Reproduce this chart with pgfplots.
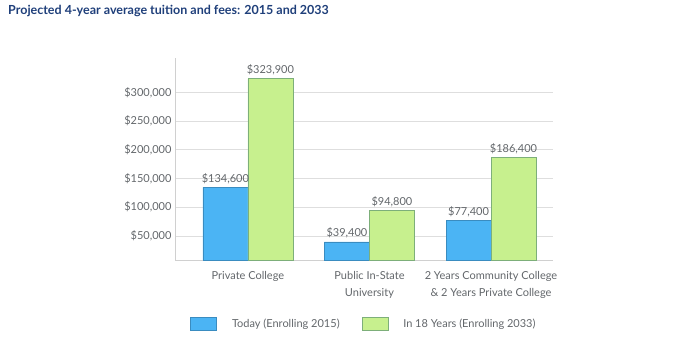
\documentclass[border=0pt]{standalone}
\usepackage{pgfplots}
\pgfplotsset{compat=1.18}
\usepackage{fontspec}
\setmainfont{Lato}
\definecolor{titleblue}{HTML}{1F3F7A}
\definecolor{txtgray}{HTML}{62666A}
\definecolor{gridgray}{HTML}{DEDEDE}
\definecolor{axisgray}{HTML}{D0D0D0}
\definecolor{barblue}{HTML}{4BB4F4}
\definecolor{barblueedge}{HTML}{3A8CC0}
\definecolor{bargreen}{HTML}{C7F08E}
\definecolor{bargreenedge}{HTML}{7DAF7A}
\begin{document}
\begin{tikzpicture}[x=1pt,y=1pt]
\begin{axis}[
  width=378pt, height=202pt, scale only axis,
  ybar=0pt, bar width=45pt,
  xmin=-0.6, xmax=2.51, ymin=8000, ymax=360000,
  xtick={0,1,2},
  xticklabels={Private College, {Public In-State\\University}, {2 Years Community College\\\& 2 Years Private College}},
  xticklabel style={align=center, font=\fontsize{11}{17}\selectfont, text=txtgray, yshift=-8pt},
  ytick={50000,100000,150000,200000,250000,300000},
  yticklabel={\$\pgfmathprintnumber{\tick}},
  yticklabel style={font=\fontsize{11}{13}\selectfont, text=txtgray},
  /pgf/number format/.cd, fixed, precision=0, 1000 sep={,}, assume math mode=true, /pgfplots/.cd,
  scaled y ticks=false,
  major tick length=0pt,
  axis x line*=bottom, axis y line*=left,
  axis line style={axisgray, -},
  ymajorgrids, grid style={gridgray, line width=0.8pt},
  nodes near coords={\$\pgfmathprintnumber{\pgfplotspointmeta}},
  nodes near coords style={font=\fontsize{11}{13}\selectfont, text=txtgray},
  legend style={at={(0.5,-0.317)}, anchor=center, draw=none, fill=none,
    font=\fontsize{11}{13}\selectfont, text=txtgray,
    /tikz/every even column/.append style={column sep=20pt}},
  legend columns=2,
  legend image code/.code={\draw[#1] (0pt,-6.5pt) rectangle (26pt,6.5pt);},
  legend cell align=left,
]
\addplot[fill=barblue, draw=barblueedge, line width=0.6pt] coordinates {(0,134600) (1,39400) (2,77400)};
\addplot[fill=bargreen, draw=bargreenedge, line width=0.6pt] coordinates {(0,323900) (1,94800) (2,186400)};
\legend{\hspace{13pt}Today (Enrolling 2015), \hspace{13pt}In 18 Years (Enrolling 2033)}
\coordinate (axSW) at (rel axis cs:0,0);
\end{axis}
\pgfresetboundingbox
\path[use as bounding box] (axSW) ++(-175,-83) rectangle ++(700,343);
\node[anchor=base west, font=\bfseries\fontsize{12.5}{15}\selectfont, text=titleblue, inner sep=0] at ([shift={(-167,245)}]axSW) {Projected 4-year average tuition and fees: 2015 and 2033};
\end{tikzpicture}
\end{document}
